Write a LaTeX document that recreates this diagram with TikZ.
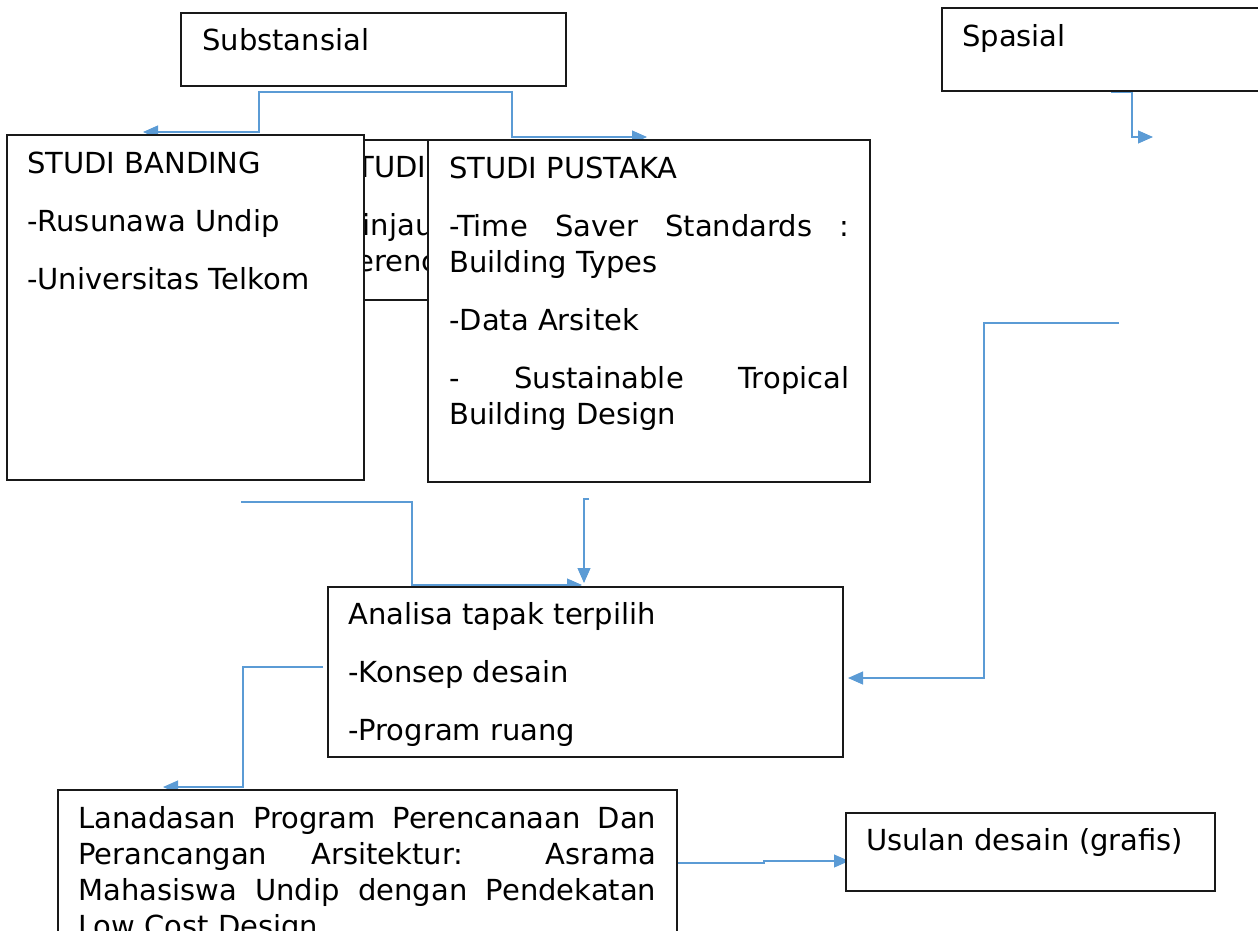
\documentclass[tikz,border=0pt]{standalone}
\usepackage{fontspec}
\setmainfont{DejaVu Sans}
\usetikzlibrary{arrows.meta,backgrounds}
\definecolor{arrowblue}{HTML}{5B9BD5}
\begin{document}
\begin{tikzpicture}[x=1pt,y=-1pt,
  box/.style={draw=black!90, line width=1.1pt, fill=white, rectangle, inner sep=0pt, outer sep=0pt, anchor=north west},
  txt/.style={anchor=base west, inner sep=0pt, font=\fontsize{29}{36}\selectfont},
  conn/.style={draw=arrowblue, line width=1.1pt},
  arr/.style={conn, -{Triangle[length=15pt,width=13pt]}}]
\useasboundingbox (0,0) rectangle (1258,930);
\clip (0,0) rectangle (1258,930);
\newcommand{\boxtext}[2]{\parbox[t]{#1}{\setlength{\parindent}{0pt}\setlength{\parskip}{22pt}\hyphenpenalty=10000 #2}}

% Substansial
\node[box, minimum width=385pt, minimum height=73pt] (subst) at (181,13) {};
\node[txt] (substT) at ([xshift=21pt,yshift=-37pt]subst.north west) {Substansial};

% Spasial
\node[box, minimum width=340pt, minimum height=83pt] (spasial) at (942,8) {};
\node[txt] (spasialT) at ([xshift=20pt,yshift=-38pt]spasial.north west) {Spasial};

% Studi (hidden box)
\node[box, minimum width=380pt, minimum height=160pt] (lapangan) at (328,140) {};
\node[txt] (lapanganT) at ([xshift=10pt,yshift=-37pt]lapangan.north west)
  {\boxtext{340pt}{STUDI LAPANGAN\par -Tinjauan lokasi\\perencanaan}};

% Studi banding
\node[box, minimum width=357pt, minimum height=345pt] (banding) at (7,135) {};
\node[txt] (bandingT) at ([xshift=20pt,yshift=-38pt]banding.north west)
  {\boxtext{320pt}{STUDI BANDING\par -Rusunawa Undip\par -Universitas Telkom}};

% Studi pustaka
\node[box, minimum width=442pt, minimum height=342pt] (pustaka) at (428,140) {};
\node[txt] (pustakaT) at ([xshift=21pt,yshift=-38pt]pustaka.north west)
  {\boxtext{400pt}{STUDI PUSTAKA\par -Time Saver Standards :\linebreak Building Types\par -Data Arsitek\par - Sustainable Tropical\linebreak Building Design}};

% Analisa
\node[box, minimum width=515pt, minimum height=170pt] (analisa) at (328,587) {};
\node[txt] (analisaT) at ([xshift=20pt,yshift=-37pt]analisa.north west)
  {\boxtext{480pt}{Analisa tapak terpilih\par -Konsep desain\par -Program ruang}};

% Landasan
\node[box, minimum width=619pt, minimum height=200pt] (landasan) at (58,790) {};
\node[txt] (landasanT) at ([xshift=20pt,yshift=-38pt]landasan.north west)
  {\boxtext{578pt}{Lanadasan Program Perencanaan Dan\linebreak Perancangan Arsitektur: Asrama\linebreak Mahasiswa Undip dengan Pendekatan\linebreak Low Cost Design}};

% Usulan
\node[box, minimum width=369pt, minimum height=78pt] (usulan) at (846,813) {};
\node[txt] (usulanT) at ([xshift=20pt,yshift=-37pt]usulan.north west) {Usulan desain (grafis)};

\begin{pgfonlayer}{background}
\coordinate (sfork) at ([yshift=-6pt]subst.south);
\coordinate (bandIn) at (143,132);
\coordinate (pusIn) at (647,137);
\draw[arr] (sfork) -- (259,92) |- (bandIn);
\draw[arr] (sfork) -- (512,92) |- (pusIn);

\coordinate (spOut) at (1111,92);
\coordinate (spEnd) at (1153,137);
\draw[arr] (spOut) -- (1132,92) |- (spEnd);

\coordinate (rFree) at (1119,323);
\coordinate (anaIn) at (848,678);
\draw[arr] (rFree) -- (984,323) |- (anaIn);

\coordinate (bandOut) at (241,502);
\coordinate (anaTopA) at (582,585);
\draw[arr] (bandOut) -- (412,502) |- (anaTopA);

\coordinate (pusOut) at (589,499);
\coordinate (anaTopB) at (584,583);
\draw[arr] (pusOut) -- (584,499) -- (anaTopB);

\coordinate (anaOut) at (323,667);
\coordinate (lanIn) at (163,787);
\draw[arr] (anaOut) -- (243,667) |- (lanIn);

\coordinate (lanOut) at (677,863);
\coordinate (usIn) at (849,861);
\draw[arr] (lanOut) -- (764,863) -- (764,861) -- (usIn);
\end{pgfonlayer}
\end{tikzpicture}
\end{document}
